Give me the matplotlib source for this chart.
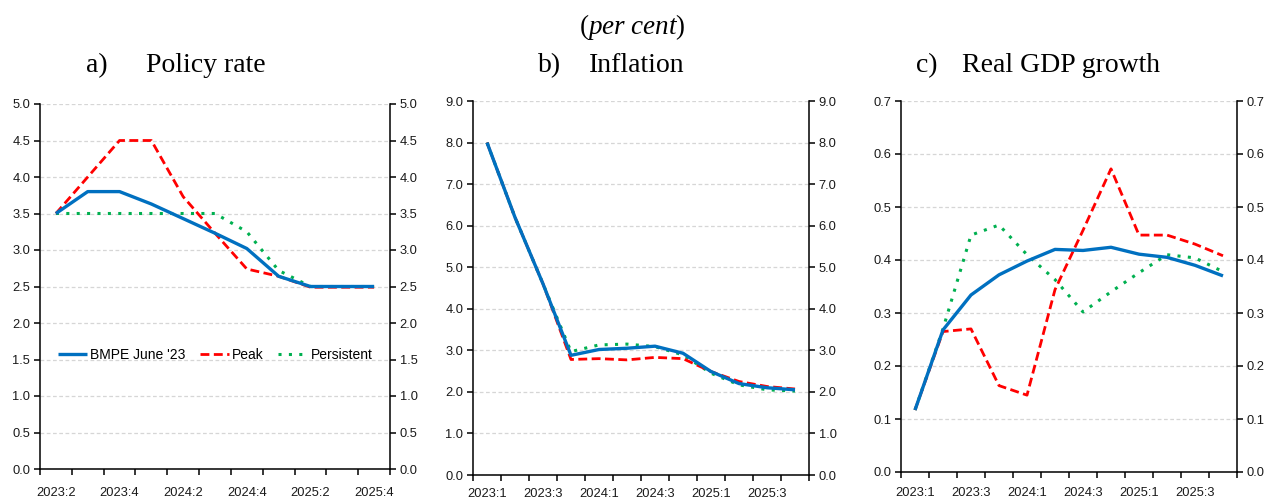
import matplotlib
matplotlib.use("Agg")
import matplotlib.pyplot as plt
import numpy as np

# ---- data ----
policy_quarters = ["2023:2", "2023:3", "2023:4", "2024:1", "2024:2", "2024:3",
                   "2024:4", "2025:1", "2025:2", "2025:3", "2025:4"]
policy_bmpe = [3.50, 3.80, 3.80, 3.63, 3.43, 3.23, 3.02, 2.64, 2.50, 2.50, 2.50]
policy_peak = [3.50, 4.00, 4.50, 4.50, 3.73, 3.23, 2.74, 2.64, 2.49, 2.49, 2.49]
policy_pers = [3.50, 3.50, 3.50, 3.50, 3.50, 3.50, 3.25, 2.72, 2.50, 2.50, 2.50]

quarters = ["2023:1", "2023:2", "2023:3", "2023:4", "2024:1", "2024:2", "2024:3",
            "2024:4", "2025:1", "2025:2", "2025:3", "2025:4"]
infl_bmpe = [8.00, 6.20, 4.60, 2.88, 3.02, 3.05, 3.10, 2.93, 2.49, 2.20, 2.10, 2.05]
infl_peak = [8.00, 6.20, 4.60, 2.78, 2.80, 2.77, 2.83, 2.80, 2.49, 2.25, 2.13, 2.07]
infl_pers = [8.00, 6.20, 4.60, 2.97, 3.13, 3.15, 3.09, 2.89, 2.45, 2.17, 2.05, 2.02]

gdp_bmpe = [0.117, 0.268, 0.334, 0.372, 0.398, 0.420, 0.418, 0.424, 0.411, 0.405, 0.390, 0.370]
gdp_peak = [0.117, 0.265, 0.270, 0.163, 0.145, 0.344, 0.456, 0.572, 0.447, 0.447, 0.430, 0.408]
gdp_pers = [0.117, 0.270, 0.447, 0.466, 0.410, 0.363, 0.302, 0.340, 0.376, 0.410, 0.404, 0.378]

series_labels = ["BMPE June '23", "Peak", "Persistent"]
titles = [("a)", "Policy rate"), ("b)", "Inflation"), ("c)", "Real GDP growth")]
subtitle = "per cent"

# ---- style ----
plt.rcParams["mathtext.fontset"] = "custom"
plt.rcParams["mathtext.rm"] = "Liberation Serif"
plt.rcParams["mathtext.it"] = "Liberation Serif:italic"
TICKFONT = ["Liberation Sans", "DejaVu Sans"]
SERIF = ["Liberation Serif", "DejaVu Serif"]
BLUE = "#0070C0"
RED = "#FF0000"
GREEN = "#00B050"

fig = plt.figure(figsize=(12.68, 5.03), dpi=100)
W, H = 1268, 503

def box(l, r, t, b):
    return [l / W, 1 - b / H, (r - l) / W, (b - t) / H]

panels = [
    dict(rect=box(40, 390, 104, 469), cats=policy_quarters,
         data=(policy_bmpe, policy_peak, policy_pers), ymax=5.0, ystep=0.5,
         title_x=(97, 146), xpad=13),
    dict(rect=box(473, 809, 101, 475), cats=quarters,
         data=(infl_bmpe, infl_peak, infl_pers), ymax=9.0, ystep=1.0,
         title_x=(550, 589), xpad=9.5),
    dict(rect=box(901, 1237, 101, 472), cats=quarters,
         data=(gdp_bmpe, gdp_peak, gdp_pers), ymax=0.7, ystep=0.1,
         title_x=(927, 962), xpad=11),
]

axes = []
for i, p in enumerate(panels):
    ax = fig.add_axes(p["rect"])
    n = len(p["cats"])
    x = np.arange(n)
    b, pk, ps = p["data"]
    l_ps, = ax.plot(x, ps, color=GREEN, lw=2.2, linestyle=(0, (1, 2.4)), zorder=3)
    l_pk, = ax.plot(x, pk, color=RED, lw=2.0, linestyle=(0, (3.2, 1.6)), zorder=4)
    l_b, = ax.plot(x, b, color=BLUE, lw=2.4, solid_capstyle="butt", zorder=5)
    ax.set_xlim(-0.5, n - 0.5)
    ax.set_ylim(0, p["ymax"])
    yt = np.round(np.arange(0, p["ymax"] + 1e-9, p["ystep"]), 2)
    ax.set_yticks(yt)
    ax.set_yticklabels([f"{v:.1f}" for v in yt])
    ax.yaxis.grid(True, color="#D6D6D6", linestyle=(0, (3, 2)), lw=0.9)
    ax.set_axisbelow(True)
    ax.set_xticks(np.arange(-0.5, n, 1.0))
    ax.set_xticklabels([])
    ax.set_xticks(x[::2], minor=True)
    ax.set_xticklabels([p["cats"][j] for j in x[::2]], minor=True)
    ax.tick_params(axis="x", which="major", direction="out", length=4, width=1.1)
    ax.tick_params(axis="x", which="minor", length=0, pad=p["xpad"])
    ax.tick_params(axis="y", direction="out", length=4, width=1.1,
                   left=True, right=True, labelleft=True, labelright=True, pad=3)
    for lab in ax.get_xticklabels(minor=True) + ax.get_yticklabels():
        lab.set_family(TICKFONT)
        lab.set_fontsize(9.3)
        lab.set_color("#1a1a1a")
    for s in ("left", "bottom", "right"):
        ax.spines[s].set_linewidth(1.1)
        ax.spines[s].set_color("black")
    ax.spines["top"].set_visible(False)
    lx, tx = p["title_x"]
    fig.text(lx / W, 1 - 66 / H, titles[i][0], ha="center", va="center",
             family=SERIF, fontsize=20)
    fig.text(tx / W, 1 - 66 / H, titles[i][1], ha="left", va="center",
             family=SERIF, fontsize=20)
    if i == 0:
        handles = [l_b, l_pk, l_ps]
    axes.append(ax)

# legend in panel a
axes[0].legend(handles, series_labels, loc="center", bbox_to_anchor=(0.5, 0.313),
               ncol=3, frameon=False, prop={"family": TICKFONT, "size": 10},
               handlelength=2.1, handletextpad=0.25, columnspacing=1.0)

fig.text(632 / W, 1 - 27 / H, "(" + r"$\mathit{per\ cent}$" + ")", ha="center",
         va="center", family=SERIF, fontsize=19.5)

fig.savefig("out.png", dpi=100)
